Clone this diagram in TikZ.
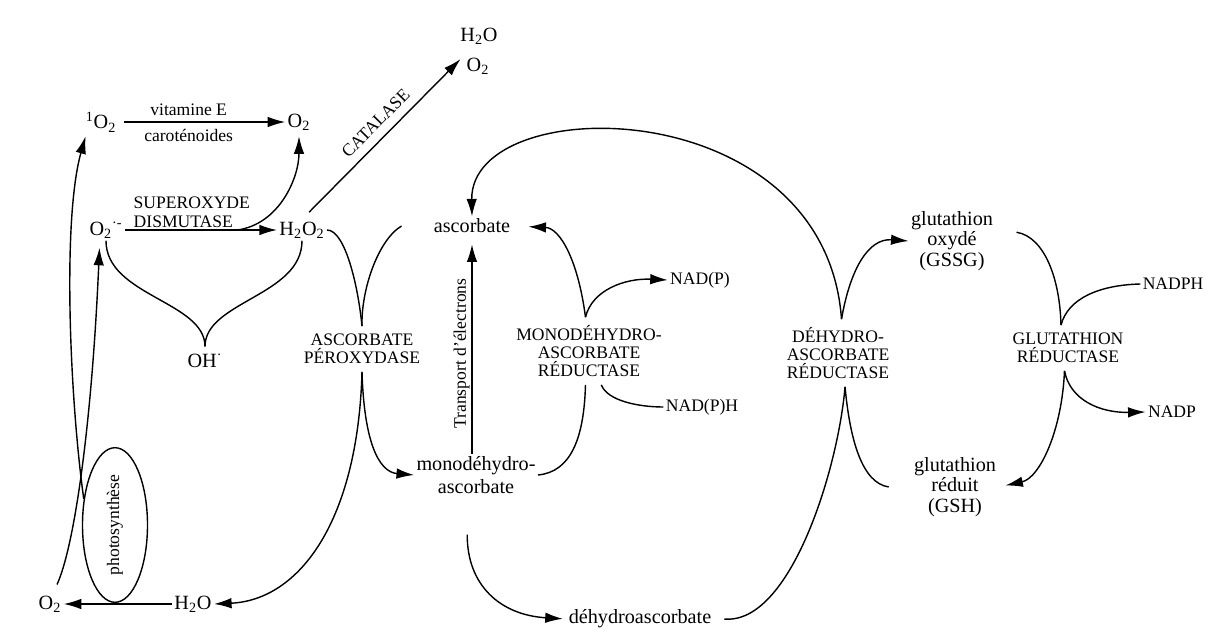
\documentclass[tikz,border=0pt]{standalone}
\usepackage{fontspec}
\setmainfont{Liberation Serif}
\usetikzlibrary{arrows.meta,shapes.geometric}
\tikzset{
	arr/.style = {-{Latex[length=10pt,width=6pt]}},
	chem/.style = {font=\fontsize{11.5}{13}\selectfont, inner sep=1pt, align=center},
	enz/.style = {font=\fontsize{10}{10.5}\selectfont, inner sep=1pt, align=center},
	note/.style = {font=\fontsize{10}{11}\selectfont, inner sep=1pt},
}
\begin{document}
\begin{tikzpicture}[x=0.02cm, y=-0.02cm, line width=0.8pt]
		\useasboundingbox (0, 0) rectangle (1217, 632);
		\node[chem] (sO2) at (101, 122) {\textsuperscript{1}O\textsubscript{2}};
		\node[chem] (O2a) at (299, 122) {O\textsubscript{2}};
		\node[chem] (sup) at (106, 230) {O\textsubscript{2}\textsuperscript{·-}};
		\node[chem] (hp) at (302, 230) {H\textsubscript{2}O\textsubscript{2}};
		\node[chem] (cH2O) at (479, 36) {H\textsubscript{2}O};
		\node[chem] (cO2) at (478, 66) {O\textsubscript{2}};
		\node[chem] (OH) at (205, 361) {OH\textsuperscript{·}};
		\node[chem] (wat) at (193, 604) {H\textsubscript{2}O};
		\node[chem] (O2b) at (50, 604) {O\textsubscript{2}};
		\node[draw, ellipse, minimum width=37pt, minimum height=88pt, inner sep=0pt, note] (ph) at (115, 525) {\rotatebox{90}{photosynthèse}};
		\node[chem] (asc) at (472, 226) {ascorbate};
		\node[chem] (mda) at (476, 475) {monodéhydro-\\ascorbate};
		\node[chem] (dha) at (640, 619) {déhydroascorbate};
		\node[chem, font=\fontsize{11.5}{11.6}\selectfont] (gssg) at (952, 241) {glutathion\\oxydé\\(GSSG)};
		\node[chem, font=\fontsize{11.5}{11.6}\selectfont] (gsh) at (955, 487) {glutathion\\réduit\\(GSH)};
		\node[enz] (nadpA) at (700, 280) {NAD(P)};
		\node[enz] (nadphA) at (702, 407) {NAD(P)H};
		\node[enz] (nadphB) at (1173, 284) {NADPH};
		\node[enz] (nadpB) at (1172, 412) {NADP};
		\node[enz] (apx) at (362, 349) {ASCORBATE\\PÉROXYDASE};
		\node[enz] (mdhar) at (589, 351) {MONODÉHYDRO-\\ASCORBATE\\RÉDUCTASE};
		\node[enz] (dhar) at (838, 353) {DÉHYDRO-\\ASCORBATE\\RÉDUCTASE};
		\node[enz] (gr) at (1068, 348) {GLUTATHION\\RÉDUCTASE};
		\coordinate (apxN) at ([yshift=3pt]apx.north);
		\coordinate (apxS) at ([yshift=-3pt]apx.south);
		\coordinate (mdN) at ([shift={(-2pt,3pt)}]mdhar.north);
		\coordinate (mdS) at ([shift={(-2pt,-3pt)}]mdhar.south);
		\coordinate (dhN) at ([shift={(2pt,3pt)}]dhar.north);
		\coordinate (dhS) at ([shift={(4pt,-3pt)}]dhar.south);
		\coordinate (grN) at ([shift={(-4pt,3pt)}]gr.north);
		\coordinate (grS) at ([shift={(-2pt,-3pt)}]gr.south);
		\draw[arr, shorten <=3pt] (sO2) -- node[pos=.42, above=2pt, note] {vitamine E} node[pos=.42, below=3pt, note] {caroténoides} (O2a);
		\draw[arr] (sup) -- coordinate[pos=.74] (sodB) node[pos=.44, above, enz, align=left] {SUPEROXYDE\\DISMUTASE} (hp);
		\draw[arr, shorten >=2pt] (sodB) .. controls +(42, -6) and +(0, 45) .. (O2a.south);
		\draw[arr, shorten >=3pt] ([shift={(4pt,4pt)}]hp.north) -- node[sloped, above=4pt, enz] {CATALASE} (cO2.north west);
		\draw (sup.south) .. controls +(0, 55) and +(0, -45) .. ([yshift=3pt]OH.north);
		\draw (hp.south) .. controls +(0, 55) and +(0, -45) .. ([yshift=3pt]OH.north);
		\draw[arr, shorten >=1pt] (ph.140) .. controls (70, 400) and (62, 220) .. (sO2.220);
		\draw[arr, shorten >=4pt] ([shift={(4pt,5pt)}]O2b.north) .. controls (75, 545) and (92, 420) .. (sup.240);
		\draw[arr] (wat) -- (O2b);
		\draw (hp.east) .. controls (345, 230) and (358, 285) .. (apxN);
		\draw ([xshift=-17pt]asc.west) .. controls (378, 240) and (361, 290) .. (apxN);
		\draw[arr] (apxS) .. controls (358, 520) and (300, 600) .. (wat.east);
		\draw[arr] (apxS) .. controls (364, 440) and (378, 472) .. (mda.west);
		\draw[arr, shorten >=5pt] (mda.north -| asc.south) -- node[pos=.46, sloped, above, note] {Transport d'électrons} (asc.south);
		\draw[arr, shorten >=9pt] (mdN) .. controls (578, 260) and (560, 228) .. (asc.east);
		\draw[arr] (mdN) .. controls (592, 290) and (625, 278) .. (nadpA.west);
		\draw (mdS) .. controls (584, 440) and (570, 472) .. (mda.east);
		\draw ([xshift=9pt]mdS) .. controls +(6, 16) and +(-25, 0) .. (nadphA.west);
		\draw[arr, shorten >=2pt] ([shift={(-5pt,-22pt)}]mda.south) .. controls (467, 585) and (500, 615) .. (dha.west);
		\draw[arr] (dhN) .. controls (825, 90) and (470, 90) .. (asc.north);
		\draw[arr] (dhN) .. controls (850, 270) and (868, 238) .. (gssg.west);
		\draw ([xshift=6pt]dha.east) .. controls (790, 625) and (838, 470) .. (dhS);
		\draw (dhS) .. controls (850, 440) and (862, 483) .. ([xshift=-13pt]gsh.west);
		\draw ([shift={(12pt,5pt)}]gssg.east) .. controls (1045, 237) and (1060, 280) .. (grN);
		\draw (nadphB.west) .. controls (1100, 285) and (1068, 298) .. (grN);
		\draw[arr] (grS) .. controls (1070, 400) and (1100, 413) .. (nadpB.west);
		\draw[arr, shorten >=4pt] (grS) .. controls (1062, 430) and (1040, 478) .. (gsh.east);
	\end{tikzpicture}
\end{document}
